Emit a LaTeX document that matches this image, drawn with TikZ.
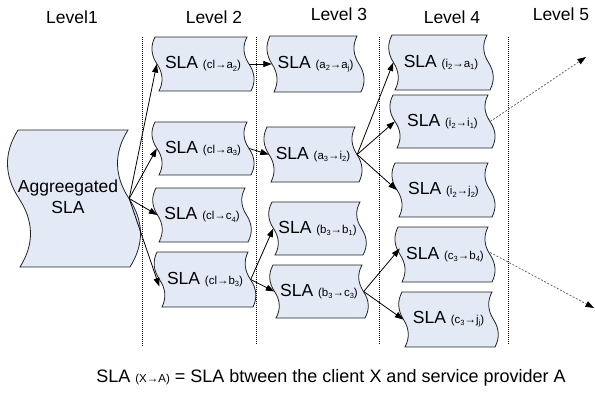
\documentclass[tikz,border=0pt]{standalone}
\usepackage{fontspec}
\setmainfont{Liberation Sans}
\usetikzlibrary{arrows.meta}
\definecolor{tapefill}{RGB}{228,234,245}
\definecolor{tapeline}{RGB}{35,35,35}
\definecolor{dashgray}{RGB}{90,90,90}
% small text and its subscripts inside the SLA labels
\newcommand\sm[1]{{\fontsize{11.5}{13}\selectfont #1}}
\newcommand\sbs[1]{\raisebox{-0.35ex}{\fontsize{7.5}{8}\selectfont #1}}
% tape shape with wavy sides: name, x left, x right, y top, y bottom, slant, amplitude, text
\newcommand\tapebox[8]{%
  \pgfmathsetmacro\tbH{#5-#4}%
  \pgfmathsetmacro\tbW{#3-#2}%
  \pgfmathsetmacro\tbD{4*#7/3}%
  \pgfmathsetmacro\tbM{(#4+#5)/2}%
  \filldraw[tape] (#2,#4) -- (#3,#4)
    .. controls ({#3+#6/6-\tbD},{#4+\tbH/6}) and ({#3+#6/3-\tbD},{#4+\tbH/3}) .. ({#3+#6/2},\tbM)
    .. controls ({#3+2*#6/3+\tbD},{#4+2*\tbH/3}) and ({#3+5*#6/6+\tbD},{#4+5*\tbH/6}) .. ({#3+#6},#5)
    -- ({#2+#6},#5)
    .. controls ({#2+5*#6/6+\tbD},{#4+5*\tbH/6}) and ({#2+2*#6/3+\tbD},{#4+2*\tbH/3}) .. ({#2+#6/2},\tbM)
    .. controls ({#2+#6/3-\tbD},{#4+\tbH/3}) and ({#2+#6/6-\tbD},{#4+\tbH/6}) .. (#2,#4) -- cycle;
  \node[tapetext, minimum width=\tbW pt, minimum height=\tbH pt] (#1) at ({(#2+#3+#6)/2},\tbM) {#8};%
}
\begin{document}
\begin{tikzpicture}[x=1pt, y=-1pt,
  font=\fontsize{17.5}{21}\selectfont,
  tape/.style={fill=tapefill, draw=tapeline, line width=0.8pt},
  tapetext/.style={inner sep=0pt, align=center},
  conn/.style={-{Triangle[length=8.5pt,width=6pt]}, line width=0.8pt, black},
  dashconn/.style={-{Triangle[length=8.5pt,width=6pt,color=black]}, line width=0.7pt,
    draw=dashgray, dash pattern=on 2pt off 1.6pt},
  divider/.style={line width=0.8pt, dash pattern=on 1pt off 1pt, black},
  levellabel/.style={inner sep=0pt}]
\useasboundingbox (0,0) rectangle (595,392);

% level headings
\node[levellabel] (lv1) at (72,17) {Level1};
\node[levellabel] (lv2) at (214,17) {Level 2};
\node[levellabel] (lv3) at (339,14) {Level 3};
\node[levellabel] (lv4) at (452,17) {Level 4};
\node[levellabel] (lv5) at (561,14) {Level 5};

% dotted column separators
\coordinate (d1t) at (142,37); \coordinate (d1b) at (142,347);
\coordinate (d2t) at (256,37); \coordinate (d2b) at (256,344);
\coordinate (d3t) at (379,37); \coordinate (d3b) at (379,345);
\coordinate (d4t) at (508,37); \coordinate (d4b) at (508,345);
\draw[divider] (d1t) -- (d1b);
\draw[divider] (d2t) -- (d2b);
\draw[divider] (d3t) -- (d3b);
\draw[divider] (d4t) -- (d4b);

% level 1
\tapebox{agg}{18}{128}{130}{267}{2}{11}{\raisebox{6pt}{\kern-12pt\begin{tabular}{@{}c@{}}Aggreegated\\SLA\end{tabular}}}

% level 2
\tapebox{cla2}{155}{247}{37}{91}{4}{4}{SLA \sm{(cl→a\sbs{2})}}
\tapebox{cla3}{155}{247}{122}{175}{4}{4}{SLA \sm{(cl→a\sbs{3})}}
\tapebox{clc4}{156}{245}{188}{242}{3}{4}{SLA \sm{(cl→c\sbs{4})}}
\tapebox{clb3}{157}{248}{252}{307}{5}{4}{SLA \sm{(cl→b\sbs{3})}}

% level 3
\tapebox{a2aj}{270}{357}{36}{92}{4}{4}{SLA \sm{(a\sbs{2}→a\sbs{j})}}
\tapebox{a3i2}{267}{355}{127}{182}{4}{4}{SLA \sm{(a\sbs{3}→i\sbs{2})}}
\tapebox{b3b1}{272}{360}{202}{255}{3}{4}{SLA \sm{(b\sbs{3}→b\sbs{1})}}
\tapebox{b3c3}{273}{362}{265}{318}{3}{4}{SLA \sm{(b\sbs{3}→c\sbs{3})}}

% level 4
\tapebox{i2a1}{392}{487}{35}{90}{3}{4}{SLA \sm{(i\sbs{2}→a\sbs{1})}}
\tapebox{i2i1}{393}{488}{95}{148}{4}{4}{SLA \sm{(i\sbs{2}→i\sbs{1})}}
\tapebox{i2j2}{395}{488}{163}{217}{4}{4}{SLA \sm{(i\sbs{2}→j\sbs{2})}}
\tapebox{c3b4}{398}{488}{227}{282}{4}{4}{SLA \sm{(c\sbs{3}→b\sbs{4})}}
\tapebox{c3jj}{402}{492}{292}{347}{3}{4}{SLA \sm{(c\sbs{3}→j\sbs{j})}}

% connectors
\draw[conn] (agg.east) -- (cla2.west);
\draw[conn] (agg.east) -- (cla3.west);
\draw[conn] (agg.east) -- (clc4.west);
\draw[conn] (agg.east) -- ([yshift=-7pt]clb3.west);

\draw[conn] (cla2.east) -- (a2aj.west);
\draw[conn] (cla3.east) -- (a3i2.west);
\draw[conn] (clb3.east) -- (b3b1.west);
\draw[conn] (clb3.east) -- (b3c3.west);

\draw[conn] (a3i2.east) -- (i2a1.west);
\draw[conn] (a3i2.east) -- (i2i1.west);
\draw[conn] (a3i2.east) -- (i2j2.west);
\draw[conn] (b3c3.east) -- ([yshift=6pt]c3b4.west);
\draw[conn] (b3c3.east) -- (c3jj.west);

% level 5 continuations
\coordinate (up5) at (586,57);
\coordinate (dn5) at (594,308);
\draw[dashconn] (i2i1.east) -- (up5);
\draw[dashconn] ([yshift=2pt]c3b4.east) -- (dn5);

% legend
\node (legend) at (331,378) {\fontsize{18}{21}\selectfont SLA \sm{(X→A)} = SLA btween the client X and service provider A};
\end{tikzpicture}
\end{document}
